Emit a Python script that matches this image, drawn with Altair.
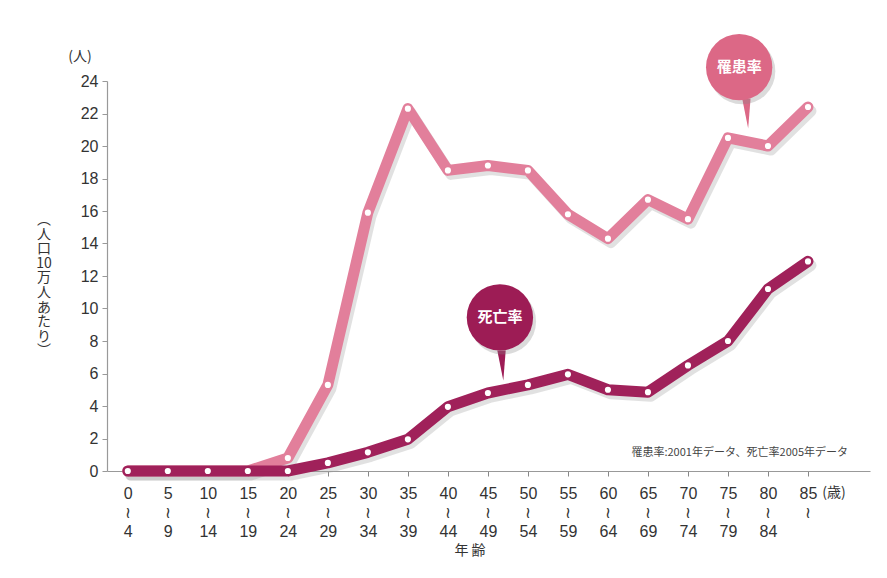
import altair as alt
import pandas as pd

# ---- data ----
age_start = [0, 5, 10, 15, 20, 25, 30, 35, 40, 45, 50, 55, 60, 65, 70, 75, 80, 85]
age_end = ["4", "9", "14", "19", "24", "29", "34", "39", "44", "49", "54", "59",
           "64", "69", "74", "79", "84", ""]
morbidity = [0, 0, 0, 0, 0.8, 5.3, 15.9, 22.3, 18.5, 18.8, 18.5, 15.8, 14.3, 16.7,
             15.5, 20.5, 20.0, 22.4]          # 罹患率
mortality = [0, 0, 0, 0, 0, 0.5, 1.15, 1.95, 3.95, 4.8, 5.3, 5.95, 5.0, 4.85,
             6.5, 8.0, 11.2, 12.9]            # 死亡率
y_ticks = [0, 2, 4, 6, 8, 10, 12, 14, 16, 18, 20, 22, 24]

series_names = ["罹患率", "死亡率"]
line_colors = ["#e27f9b", "#a0215a"]
bubble_colors = ["#dc6886", "#9d1c55"]
# annotation bubble positions (data coords) and stems
bubble_age = [76.4, 46.5]
bubble_val = [24.85, 9.45]
stem_age = [77.3, 46.7]
stem_val = [22.0, 6.5]

note = "罹患率:2001年データ、死亡率2005年データ"

df = pd.DataFrame({
    "age": age_start * 2,
    "value": morbidity + mortality,
    "series": [series_names[0]] * len(age_start) + [series_names[1]] * len(age_start),
})
bub = pd.DataFrame({"series": series_names, "age": bubble_age, "value": bubble_val,
                    "sage": stem_age, "sval": stem_val, "color": bubble_colors})

JP = "Noto Sans CJK JP"
NUM = "Liberation Sans"

mapping = "{" + ",".join(
    f"'{s}':['{s}','≀','{e}']" for s, e in zip(age_start, age_end)) + "}"

xscale = alt.Scale(domain=[-2.6, 92.75], nice=False, zero=False)
yscale = alt.Scale(domain=[0, 24], nice=False)

x_axis = alt.Axis(values=age_start, labelExpr=mapping + "[datum.label]",
                  labelFont=NUM, labelFontSize=16, labelColor="#333",
                  labelLineHeight=19, labelBaseline="top", labelPadding=9,
                  tickSize=5, tickColor="#888", domainColor="#999",
                  domainWidth=1.2, grid=False, title=None, labelAngle=0)
y_axis = alt.Axis(values=y_ticks, labelFont=NUM, labelFontSize=16,
                  labelColor="#333", tickSize=5, tickColor="#999",
                  domainColor="#999", domainWidth=1.2, grid=False, title=None,
                  labelPadding=4)


def X(field="age"):
    return alt.X(f"{field}:Q", scale=xscale, axis=x_axis, title=None)


def Y(field="value"):
    return alt.Y(f"{field}:Q", scale=yscale, axis=y_axis, title=None)


base = alt.Chart(df)
layers = []

for name, col in zip(series_names, line_colors):
    sub = base.transform_filter(alt.datum.series == name)
    layers.append(sub.mark_line(color="#9a9a9a", strokeWidth=11, opacity=0.3,
                                xOffset=3, yOffset=4, strokeJoin="round",
                                strokeCap="round")
                  .encode(x=X(), y=Y()))
    layers.append(sub.mark_line(color=col, strokeWidth=11, strokeJoin="round",
                                strokeCap="round")
                  .encode(x=X(), y=Y()))
    layers.append(sub.mark_circle(color="white", size=38, opacity=1)
                  .encode(x=X(), y=Y()))

bb = alt.Chart(bub)
stem_path = "M -0.28 -1 L 0.28 -1 L 0.12 1 Z"
layers.append(bb.mark_point(shape=stem_path, filled=True, size=900, opacity=1)
              .encode(x=X("sage"), y=Y("sval"),
                      color=alt.Color("color:N", scale=None)))
layers.append(bb.mark_circle(size=4400, color="#888", opacity=0.3, xOffset=3, yOffset=4)
              .encode(x=X(), y=Y()))
layers.append(bb.mark_circle(size=4400, opacity=1)
              .encode(x=X(), y=Y(), color=alt.Color("color:N", scale=None)))
layers.append(bb.mark_text(font=JP, fontSize=15, fontWeight="bold", color="white")
              .encode(x=X(), y=Y(), text="series:N"))


# static texts
def txt(text, x, y, **kw):
    return alt.Chart(pd.DataFrame({"t": [text]})).mark_text(**kw).encode(
        x=alt.value(x), y=alt.value(y), text="t:N")


vert = ["︵", "人", "口", "10", "万", "人", "あ", "た", "り", "︶"]
layers.append(alt.Chart(pd.DataFrame({"t": [vert]})).mark_text(
    font=JP, fontSize=14, lineHeight=14.6, color="#333", baseline="middle")
    .encode(x=alt.value(-63), y=alt.value(139), text="t"))
layers.append(txt("(人)", -27, -24, font=JP, fontSize=14, color="#333"))
layers.append(txt("(歳)", 727, 412, font=JP, fontSize=14, color="#333"))
layers.append(txt("年 齢", 363, 470, font=JP, fontSize=14, color="#333"))
layers.append(txt(note, 741, 372, font=JP, fontSize=11, color="#444", align="right"))

chart = alt.layer(*layers).properties(
    width=763, height=390,
    autosize=alt.AutoSizeParams(type="none"),
    padding={"left": 99, "top": 73, "right": 9, "bottom": 90},
    background="white",
).configure_view(stroke=None)

chart.save("out.html", embed_options={"renderer": "svg", "actions": False})
